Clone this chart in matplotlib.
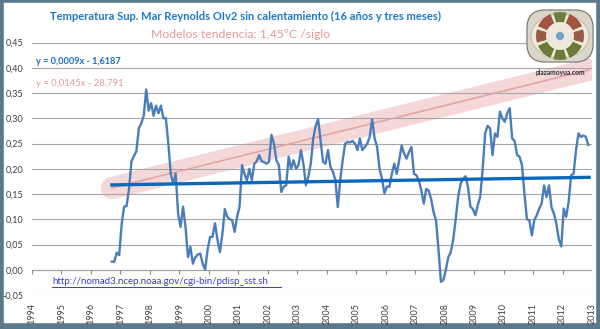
import matplotlib.pyplot as plt
import matplotlib.patches as mpatches
import numpy as np

# monthly anomaly, Sep 1996 .. Nov 2012 (195 months)
start_year = 1996 + 8.5 / 12
anomaly = [
    0.016, 0.016, 0.034, 0.029, 0.09, 0.125, 0.126, 0.16, 0.215, 0.225,
    0.235, 0.28, 0.29, 0.305, 0.357, 0.315, 0.33, 0.305, 0.325, 0.31,
    0.325, 0.30, 0.30, 0.25, 0.19, 0.17, 0.19, 0.11, 0.085, 0.125,
    0.085, 0.025, 0.045, 0.012, 0.025, 0.03, 0.032, 0.012, 0.0, 0.04,
    0.065, 0.065, 0.092, 0.06, 0.035, 0.07, 0.12, 0.105, 0.10, 0.098,
    0.075, 0.105, 0.125, 0.207, 0.19, 0.177, 0.20, 0.177, 0.21, 0.215,
    0.227, 0.215, 0.213, 0.21, 0.214, 0.267, 0.25, 0.217, 0.207, 0.154,
    0.165, 0.167, 0.224, 0.20, 0.217, 0.20, 0.207, 0.237, 0.21, 0.167,
    0.184, 0.21, 0.26, 0.285, 0.298, 0.255, 0.214, 0.21, 0.237, 0.204,
    0.194, 0.178, 0.124, 0.178, 0.217, 0.25, 0.253, 0.252, 0.255, 0.25,
    0.237, 0.26, 0.237, 0.243, 0.25, 0.263, 0.298, 0.26, 0.243, 0.20,
    0.18, 0.151, 0.165, 0.164, 0.19, 0.21, 0.19, 0.217, 0.246, 0.23,
    0.22, 0.233, 0.243, 0.19, 0.187, 0.177, 0.157, 0.131, 0.16, 0.157,
    0.14, 0.114, 0.098, 0.04, -0.024, -0.02, 0.0, 0.025, 0.035, 0.06,
    0.10, 0.144, 0.17, 0.18, 0.185, 0.164, 0.125, 0.12, 0.108, 0.128,
    0.145, 0.20, 0.27, 0.285, 0.28, 0.227, 0.27, 0.263, 0.313, 0.30,
    0.293, 0.31, 0.32, 0.26, 0.255, 0.227, 0.224, 0.207, 0.15, 0.10,
    0.098, 0.068, 0.098, 0.108, 0.121, 0.131, 0.167, 0.144, 0.167, 0.124,
    0.111, 0.091, 0.06, 0.046, 0.121, 0.105, 0.135, 0.187, 0.19, 0.237,
    0.27, 0.263, 0.266, 0.263, 0.247,
]
# trend endpoints
trend_x = [1996.71, 2012.9]
trend_flat = [0.168, 0.183]
trend_model = [0.162, 0.396]

year_ticks = list(range(1994, 2014))
y_ticks = [-0.05, 0.0, 0.05, 0.10, 0.15, 0.20, 0.25, 0.30, 0.35, 0.40, 0.45]

plt.rcParams['font.family'] = ['Lato', 'DejaVu Sans']

fig = plt.figure(figsize=(6, 3.29), dpi=100, facecolor='#5a7a8b')
fig.patches.append(mpatches.Rectangle((4 / 600, 7 / 329), 591 / 600, 319 / 329,
                                      transform=fig.transFigure, color='white', zorder=-10))

ax = fig.add_axes([32 / 600, 1 - 295 / 329, 560 / 600, 252.5 / 329])
ax.set_facecolor('none')

x = start_year + np.arange(len(anomaly)) / 12

ax.plot(trend_x, trend_model, color='#e39a9a', alpha=0.38, lw=16,
        solid_capstyle='round', zorder=1)
ax.plot(trend_x, trend_model, color='#e6a4a4', lw=1.2, zorder=2)
ax.plot(x, anomaly, color='#4a7ebb', lw=1.7, zorder=3)
ax.plot(trend_x, trend_flat, color='#0b68bb', lw=2.4, zorder=4)

ax.set_xlim(1994, 2013)
ax.set_ylim(-0.05, 0.45)
ax.set_yticks(y_ticks)
ax.set_yticklabels([f'{v:.2f}'.replace('.', ',') for v in y_ticks])
ax.set_xticks(year_ticks)
ax.set_xticklabels([str(y) for y in year_ticks], rotation=90)
ax.tick_params(axis='both', length=0, labelsize=6.5, colors='#404040')
ax.tick_params(axis='x', pad=6)
ax.tick_params(axis='y', pad=6)
ax.grid(axis='y', color='#a6a6a6', lw=0.8, zorder=0)
for s in ax.spines.values():
    s.set_visible(False)

# category axis crosses at 0, ticks hang below it
ax.axhline(0, color='#8c8c8c', lw=0.8, zorder=0)
ax.vlines(year_ticks, -0.008, 0, color='#8c8c8c', lw=0.8, zorder=0)

fig.text(245 / 600, 1 - 16 / 329,
         'Temperatura Sup. Mar Reynolds OIv2 sin calentamiento (16 años y tres meses)',
         ha='center', va='center', fontsize=8.0, fontweight='bold', color='#1f78c8')
fig.text(241 / 600, 1 - 34 / 329, 'Modelos tendencia: 1,45ºC /siglo',
         ha='center', va='center', fontsize=8.8, color='#e39a9a')
fig.text(36 / 600, 1 - 61 / 329, 'y = 0,0009x - 1,6187', ha='left', va='center',
         fontsize=6.6, fontweight='bold', color='#1a6cc0')
fig.text(36 / 600, 1 - 83 / 329, 'y = 0,0145x - 28,791', ha='left', va='center',
         fontsize=6.8, color='#e39a9a')

fig.text(52 / 600, 1 - 281 / 329, 'http://nomad3.ncep.noaa.gov/cgi-bin/pdisp_sst.sh',
         ha='left', va='center', fontsize=7.0, color='#3a3ad6')
fig.add_artist(plt.Line2D([52 / 600, 281 / 600], [1 - 286.5 / 329, 1 - 286.5 / 329],
                          color='#3a3ad6', lw=0.7))

# logo
lg = fig.add_axes([524 / 600, 1 - 80 / 329, 72 / 600, 76 / 329])
lg.set_xlim(0, 72)
lg.set_ylim(0, 76)
lg.axis('off')
lg.add_patch(mpatches.FancyBboxPatch((3, 18), 66, 52, boxstyle='round,pad=0,rounding_size=18',
                                     fc='#dcd6c8', ec='#7d7d78', lw=0.9))
lg.add_patch(mpatches.Ellipse((36, 44), 58, 44, fc='#eee9dc', ec='#b8b0a0', lw=0.6))
for th1, th2, c in [(20, 70, '#a0553f'), (110, 160, '#a0553f'), (200, 250, '#6d7b3a'),
                    (290, 340, '#6d7b3a'), (70, 110, '#6d7b3a'), (160, 200, '#9a5a45'),
                    (250, 290, '#6d7b3a'), (340, 380, '#9a5a45')]:
    lg.add_patch(mpatches.Wedge((36, 44), 24, th1 + 4, th2 - 4, width=10, fc=c, ec='none'))
lg.add_patch(mpatches.Circle((36, 44), 4.5, fc='#6fa0c8', ec='#eee9dc', lw=0.6))
lg.text(36, 8, 'plazamoyua.com', ha='center', va='center', fontsize=4.8,
        fontweight='bold', color='#303040')

fig.savefig('out.png', dpi=100, facecolor=fig.get_facecolor())
